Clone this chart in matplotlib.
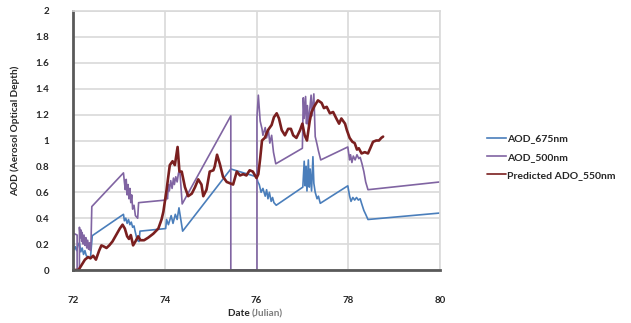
import matplotlib
matplotlib.use("Agg")
import matplotlib.pyplot as plt

# ---- data: Julian date vs. aerosol optical depth ----
aod675_day = [72.00, 72.03, 72.05, 72.08, 72.11, 72.14, 72.17, 72.20, 72.23, 72.26, 72.29,
              72.33, 72.38, 72.42, 73.10, 73.12, 73.15, 73.18, 73.21, 73.24, 73.27,
              73.30, 73.33, 73.36, 73.40, 73.44, 73.46, 74.02, 74.04, 74.08, 74.14,
              74.18, 74.23, 74.27, 74.31, 74.35, 74.39, 75.44, 76.00, 76.03, 76.06,
              76.10, 76.14, 76.19, 76.22, 76.25, 76.28, 76.32, 76.35, 76.38, 76.43,
              77.01, 77.04, 77.06, 77.08, 77.10, 77.13, 77.15, 77.17, 77.20, 77.23,
              77.25, 77.28, 77.32, 77.35, 77.39, 77.99, 78.03, 78.06, 78.10, 78.14,
              78.18, 78.22, 78.26, 78.29, 78.34, 78.38, 78.43, 80.00]
aod675_val = [0.17, 0.16, 0.18, 0.15, 0.19, 0.21, 0.14, 0.17, 0.12, 0.15, 0.11,
              0.10, 0.09, 0.265, 0.43, 0.38, 0.40, 0.36, 0.39, 0.35, 0.37,
              0.33, 0.34, 0.29, 0.23, 0.22, 0.30, 0.32, 0.39, 0.35, 0.42,
              0.36, 0.43, 0.39, 0.48, 0.39, 0.30, 0.78, 0.72, 0.68, 0.66,
              0.60, 0.63, 0.57, 0.62, 0.55, 0.60, 0.53, 0.56, 0.52, 0.50,
              0.64, 0.84, 0.65, 0.80, 0.61, 0.85, 0.64, 0.78, 0.61, 0.875,
              0.67, 0.60, 0.55, 0.57, 0.515, 0.65, 0.57, 0.53, 0.56, 0.54,
              0.56, 0.54, 0.55, 0.515, 0.46, 0.43, 0.39, 0.44]

aod500_day = [72.00, 72.03, 72.09, 72.09, 72.14, 72.14, 72.16, 72.17, 72.19, 72.20, 72.22,
              72.24, 72.26, 72.28, 72.30, 72.32, 72.34, 72.36, 72.38, 72.39, 72.41,
              73.10, 73.12, 73.14, 73.16, 73.18, 73.20, 73.22, 73.24, 73.26, 73.28,
              73.30, 73.33, 73.36, 73.41, 73.43, 74.02, 74.04, 74.06, 74.08, 74.10,
              74.13, 74.16, 74.19, 74.21, 74.24, 74.27, 74.30, 74.33, 74.35, 74.38,
              75.44, 75.44, 76.01, 76.01, 76.04, 76.08, 76.12, 76.14, 76.19, 76.22,
              76.26, 76.29, 76.33, 76.37, 76.42, 77.00, 77.02, 77.04, 77.07, 77.09,
              77.11, 77.13, 77.19, 77.21, 77.25, 77.28, 77.32, 77.35, 77.40, 77.99,
              78.03, 78.05, 78.08, 78.11, 78.15, 78.19, 78.23, 78.26, 78.30, 78.34,
              78.38, 78.43, 80.00]
aod500_val = [0.27, 0.28, 0.27, 0.00, 0.00, 0.33, 0.25, 0.31, 0.22, 0.29, 0.20,
              0.27, 0.19, 0.25, 0.17, 0.23, 0.16, 0.21, 0.15, 0.17, 0.49,
              0.75, 0.68, 0.62, 0.70, 0.58, 0.66, 0.55, 0.63, 0.52, 0.58,
              0.47, 0.50, 0.42, 0.40, 0.52, 0.54, 0.57, 0.55, 0.66, 0.61,
              0.69, 0.63, 0.71, 0.66, 0.72, 0.68, 0.75, 0.76, 0.66, 0.51,
              1.19, 0.00, 0.00, 1.18, 1.35, 1.15, 1.09, 1.04, 1.10, 1.02,
              1.08, 0.98, 1.04, 0.91, 0.82, 0.94, 1.33, 1.17, 1.34, 1.13,
              1.27, 1.12, 1.35, 1.19, 1.36, 1.03, 0.97, 0.92, 0.85, 0.95,
              0.85, 0.89, 0.83, 0.88, 0.85, 0.89, 0.86, 0.87, 0.82, 0.76,
              0.68, 0.62, 0.68]

pred_day = [72.00, 72.12, 72.19, 72.26, 72.33, 72.38, 72.44, 72.50, 72.57, 72.62, 72.68,
            72.73, 72.79, 72.86, 72.94, 73.02, 73.08, 73.13, 73.18, 73.22, 73.26,
            73.31, 73.36, 73.42, 73.47, 73.55, 73.64, 73.75, 73.86, 73.93, 73.97,
            74.04, 74.11, 74.17, 74.22, 74.28, 74.32, 74.37, 74.44, 74.51, 74.59,
            74.66, 74.73, 74.80, 74.84, 74.91, 74.98, 75.06, 75.09, 75.14, 75.20,
            75.27, 75.35, 75.42, 75.49, 75.57, 75.64, 75.71, 75.78, 75.85, 75.92,
            76.00, 76.04, 76.08, 76.12, 76.18, 76.25, 76.33, 76.38, 76.44, 76.49,
            76.55, 76.62, 76.69, 76.75, 76.80, 76.87, 76.95, 77.00, 77.05, 77.10,
            77.16, 77.20, 77.27, 77.34, 77.42, 77.47, 77.53, 77.60, 77.67, 77.74,
            77.80, 77.85, 77.93, 77.97, 78.03, 78.09, 78.14, 78.19, 78.23, 78.29,
            78.36, 78.43, 78.48, 78.54, 78.61, 78.67, 78.72, 78.76]
pred_val = [0.00, 0.00, 0.04, 0.08, 0.10, 0.09, 0.11, 0.08, 0.15, 0.19, 0.18,
            0.17, 0.19, 0.22, 0.27, 0.32, 0.35, 0.32, 0.26, 0.24, 0.27,
            0.19, 0.22, 0.26, 0.23, 0.23, 0.25, 0.28, 0.32, 0.39, 0.45,
            0.62, 0.81, 0.84, 0.81, 0.95, 0.76, 0.76, 0.64, 0.57, 0.59,
            0.64, 0.70, 0.66, 0.57, 0.62, 0.76, 0.77, 0.80, 0.89, 0.82,
            0.72, 0.68, 0.67, 0.66, 0.76, 0.73, 0.74, 0.73, 0.77, 0.76,
            0.71, 0.74, 0.86, 1.00, 1.02, 1.08, 1.12, 1.18, 1.21, 1.17,
            1.08, 1.04, 1.09, 1.09, 1.04, 1.02, 1.08, 1.13, 1.04, 1.00,
            1.15, 1.22, 1.27, 1.31, 1.29, 1.25, 1.26, 1.21, 1.22, 1.17,
            1.13, 1.17, 1.13, 1.08, 1.02, 0.99, 0.98, 0.93, 0.94, 0.90,
            0.91, 0.90, 0.94, 0.99, 1.00, 1.00, 1.02, 1.03]

x_ticks = [72, 74, 76, 78, 80]
y_ticks = [0, 0.2, 0.4, 0.6, 0.8, 1, 1.2, 1.4, 1.6, 1.8, 2]
y_tick_labels = ["0", "0.2", "0.4", "0.6", "0.8", "1", "1.2", "1.4", "1.6", "1.8", "2"]

series_names = ["AOD_675nm", "AOD_500nm", "Predicted ADO_550nm"]

# ---- figure ----
plt.rcParams["font.family"] = ["Lato", "DejaVu Sans"]
W, H = 631, 323
fig = plt.figure(figsize=(W / 100, H / 100), dpi=100)
ax = fig.add_axes([73 / W, 1 - 270 / H, (440 - 73) / W, (270 - 11) / H])

grid_c = "#D9D9D9"
axis_c = "#595959"
text_c = "#262626"

l1, = ax.plot(aod675_day, aod675_val, color="#4A7EBB", lw=1.2, solid_joinstyle="round")
l2, = ax.plot(aod500_day, aod500_val, color="#8064A2", lw=1.2, solid_joinstyle="round")
l3, = ax.plot(pred_day, pred_val, color="#7A1F1F", lw=1.9, solid_joinstyle="round",
              solid_capstyle="round")

ax.set_xlim(72, 80)
ax.set_ylim(0, 2)
ax.set_xticks(x_ticks)
ax.set_xticklabels([str(t) for t in x_ticks])
ax.set_yticks(y_ticks)
ax.set_yticklabels(y_tick_labels)
ax.grid(True, color=grid_c, lw=1.2)
ax.set_axisbelow(True)
ax.tick_params(length=0, labelsize=7, colors=text_c)
ax.tick_params(axis="x", pad=19)
ax.tick_params(axis="y", pad=17)
for lab in ax.get_xticklabels() + ax.get_yticklabels():
    lab.set_fontweight("bold")

for side in ("top", "right"):
    ax.spines[side].set_color(grid_c)
    ax.spines[side].set_linewidth(1.2)
for side in ("left", "bottom"):
    ax.spines[side].set_color(axis_c)
    ax.spines[side].set_linewidth(2.0)

# axis titles
fig.text(15 / W, 1 - 131 / H, "AOD (Aerosol Optical Depth)", rotation=90,
         ha="center", va="center", fontsize=7.2, fontweight="bold", color=text_c)
t_date = fig.text(228 / W, 1 - 314 / H, "Date ", ha="left", va="center",
                  fontsize=7.2, fontweight="bold", color=text_c)
ax.annotate("(Julian)", xy=(1, 0), xycoords=t_date, ha="left", va="bottom",
            fontsize=7.2, fontweight="bold", color="#7F7F7F")

fig.legend([l1, l2, l3], series_names, loc="center left",
           bbox_to_anchor=(487 / W, 1 - 157 / H), frameon=False,
           prop={"size": 7.5, "weight": "bold"}, labelcolor=text_c,
           handlelength=1.8, handletextpad=0.15, labelspacing=0.85,
           borderaxespad=0, borderpad=0)
for h in fig.legends[0].legend_handles:
    h.set_linewidth(1.2)

fig.savefig("out.png", dpi=100)
